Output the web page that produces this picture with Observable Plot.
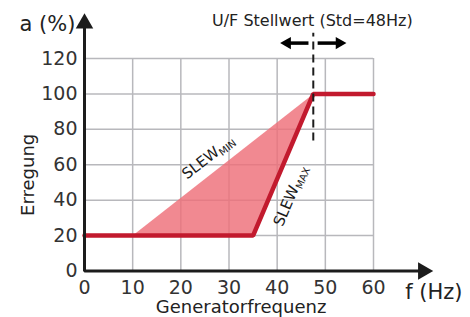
<!DOCTYPE html>
<html><head><meta charset="utf-8">
<script src="https://cdn.jsdelivr.net/npm/d3@7"></script>
<script src="https://cdn.jsdelivr.net/npm/@observablehq/plot@0.6"></script>
<style>body{margin:0;background:#fff}</style>
</head><body><div id="chart"></div>
<script>
// Data
const xTicks = [0, 10, 20, 30, 40, 50, 60];
const yTicks = [0, 20, 40, 60, 80, 100, 120];
const excitationX = [0, 35, 47.5, 60];
const excitationY = [20, 20, 100, 100];
const slewAreaX = [10, 47.5, 35];
const slewAreaY = [20, 100, 20];
const setpointX = 47.5;
const slewLabels = ["SLEW_MIN", "SLEW_MAX"];
const slewLabelX = [25.7, 42.8];
const slewLabelY = [64.3, 42.5];
const slewLabelAngle = [-38, -67];

const excitation = excitationX.map((x, i) => ({x, y: excitationY[i]}));
const slewArea = slewAreaX.map((x, i) => ({x, y: slewAreaY[i]}));
const slewText = slewLabels.map((t, i) => ({t, x: slewLabelX[i], y: slewLabelY[i], a: slewLabelAngle[i]}));

const ink = "#1c1c1c";
const chart = Plot.plot({
  width: 470, height: 317,
  marginLeft: 84, marginRight: 97, marginTop: 58, marginBottom: 46.5,
  x: {domain: [0, 60]},
  y: {domain: [0, 120]},
  style: {fontFamily: "DejaVu Sans", background: "#fff", overflow: "visible"},
  marks: [
    Plot.gridX(xTicks.slice(1), {stroke: "#b8b8bc", strokeOpacity: 1, strokeWidth: 1.5}),
    Plot.gridY(yTicks.slice(1), {stroke: "#b8b8bc", strokeOpacity: 1, strokeWidth: 1.5}),
    Plot.line(slewArea, {x: "x", y: "y", fill: "#ee6f79", fillOpacity: 0.82, stroke: null, curve: "linear-closed"}),
    Plot.line(excitation, {x: "x", y: "y", stroke: "#c21a2e", strokeWidth: 4.5, strokeLinejoin: "miter"}),
    // setpoint dashed line
    Plot.ruleX([setpointX], {y1: 73.4, y2: 134.2, stroke: ink, strokeWidth: 2, strokeDasharray: "8,5"}),
    // adjustment arrows
    Plot.link([{x1: 46.5, x2: 42.3}, {x1: 48.4, x2: 52.7}], {x1: "x1", x2: "x2", y1: 128.7, y2: 128.7, stroke: "#000", strokeWidth: 3.5}),
    Plot.dot([{x: 42.1, r: -90}, {x: 52.9, r: 90}], {x: "x", y: 128.7, rotate: "r", symbol: "triangle", r: 4.6, fill: "#000", stroke: null}),
    // axes with arrows
    Plot.line([{x: 0, y: 139.5}, {x: 0, y: 0}, {x: 70.3, y: 0}], {x: "x", y: "y", stroke: ink, strokeWidth: 3, strokeLinejoin: "miter"}),
    Plot.dot([{x: 0, y: 139.8, r: 0}, {x: 70.3, y: 0, r: 90}], {x: "x", y: "y", rotate: "r", symbol: "triangle", r: 6.5, fill: ink, stroke: null}),
    Plot.axisX(xTicks, {tickSize: 0, tickPadding: 9, fontSize: 19, label: null, color: "#333"}),
    Plot.axisY(yTicks, {tickSize: 0, tickPadding: 7, fontSize: 19, label: null, color: "#333"}),
    // texts
    Plot.text(["a (%)"], {x: -1.9, y: 139.2, textAnchor: "end", lineAnchor: "middle", fontSize: 21, fill: "#222"}),
    Plot.text(["f (Hz)"], {x: 66.6, y: -12.1, textAnchor: "start", lineAnchor: "middle", fontSize: 21, fill: "#222"}),
    Plot.text(["U/F Stellwert (Std=48Hz)"], {x: 47.3, y: 141.2, textAnchor: "middle", lineAnchor: "middle", fontSize: 16, fill: "#222"}),
    Plot.text(["Generatorfrequenz"], {x: 32.5, y: -20.4, textAnchor: "middle", lineAnchor: "middle", fontSize: 18, fill: "#222"}),
    Plot.text(["Erregung"], {x: -11.6, y: 54.3, rotate: -90, textAnchor: "middle", lineAnchor: "middle", fontSize: 18, fill: "#222"}),
    Plot.text(slewText, {x: "x", y: "y", text: "t", rotate: "a", textAnchor: "middle", lineAnchor: "middle", fontSize: 15, fill: "#1a1a1a"})
  ]
});
document.getElementById("chart").appendChild(chart);
// subscripts for SLEW labels
d3.select(chart).selectAll("text").filter(function() { return this.textContent.startsWith("SLEW_"); })
  .each(function() {
    const [main, sub] = this.textContent.split("_");
    const el = d3.select(this);
    el.text(main);
    el.append("tspan").attr("font-size", 10).attr("dy", 3).text(sub);
  });
</script>
</body></html>
